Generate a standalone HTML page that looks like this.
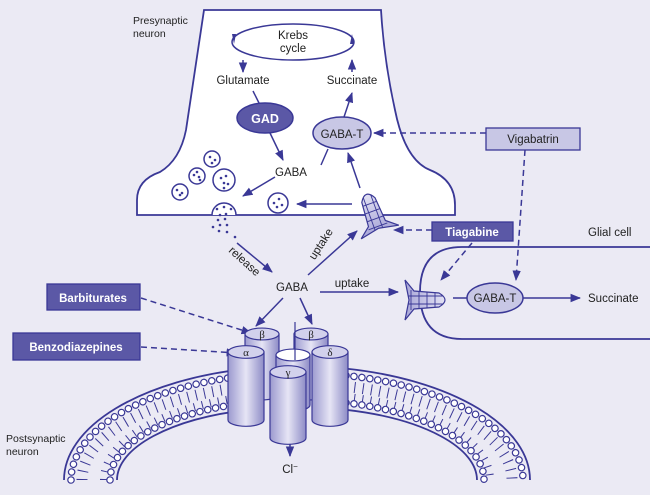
<!DOCTYPE html>
<html><head><meta charset="utf-8"><style>
body{margin:0;background:#ebeaf4}
svg{display:block;font-family:"Liberation Sans",sans-serif}
</style></head><body>
<svg width="650" height="495" viewBox="0 0 650 495" xmlns="http://www.w3.org/2000/svg">
<defs>
<marker id="a" viewBox="0 0 10 10" refX="9" refY="5" markerWidth="7" markerHeight="7" orient="auto-start-reverse"><path d="M0,1 L10,5 L0,9 Z" fill="#3a3896"/></marker>
<linearGradient id="cy" x1="0" x2="1"><stop offset="0" stop-color="#9b99cf"/><stop offset="0.5" stop-color="#e6e5f5"/><stop offset="1" stop-color="#8d8bc6"/></linearGradient>
<linearGradient id="tp" x1="0" x2="1"><stop offset="0" stop-color="#a9a7d8"/><stop offset="1" stop-color="#e2e1f3"/></linearGradient>
<g id="tr"><path d="M0,-20 L9,-9 L34,-7 Q46,0 34,7 L9,9 L0,20 L4,0 Z" fill="url(#tp)" stroke="#3a3896" stroke-width="1.2"/><path d="M6,-10 V10 M14,-9 V9 M22,-8 V8 M30,-7 V7 M3,-4 H38 M3,4 H38" stroke="#3a3896" stroke-width="0.9" fill="none"/></g>
</defs>
<rect width="650" height="495" fill="#ebeaf4"/>
<!-- membrane -->
<g fill="none" stroke="#3a3896">
<path d="M82,480 A215,96 0 0 1 248,386.5 M346,386.5 A215,96 0 0 1 512,480" stroke-width="11" stroke-dasharray="1 7.4"/>
<path d="M104,480 A193,86 0 0 1 248,396.8 M346,396.8 A193,86 0 0 1 490,480" stroke-width="8" stroke-dasharray="1 7.2"/>
<path d="M71,480 A226,107 0 0 1 248,375.5 M346,375.5 A226,107 0 0 1 523,480" stroke-width="7.6" stroke-linecap="round" stroke-dasharray="0.01 8"/>
<path d="M71,480 A226,107 0 0 1 248,375.5 M346,375.5 A226,107 0 0 1 523,480" stroke="#fff" stroke-width="5.2" stroke-linecap="round" stroke-dasharray="0.01 8"/>
<path d="M110,480 A187,80 0 0 1 248,402.8 M346,402.8 A187,80 0 0 1 484,480" stroke-width="7.6" stroke-linecap="round" stroke-dasharray="0.01 8"/>
<path d="M110,480 A187,80 0 0 1 248,402.8 M346,402.8 A187,80 0 0 1 484,480" stroke="#fff" stroke-width="5.2" stroke-linecap="round" stroke-dasharray="0.01 8"/>
<path d="M64,480 A233,114 0 0 1 248,368.6 M346,368.6 A233,114 0 0 1 530,480" stroke-width="1.8"/>
<path d="M117,480 A180,73 0 0 1 248,409.8 M346,409.8 A180,73 0 0 1 477,480" stroke-width="1.8"/>
</g>
<!-- presynaptic neuron -->
<path d="M137,215 V200 Q137,180 160,172 Q180,160 186,130 L204,10 H381 Q384,60 395,110 Q405,160 430,170 Q455,180 455,205 V215 Z" fill="#fff" stroke="#3a3896" stroke-width="1.8"/>
<!-- glial -->
<path d="M650,247 H462 Q420,247 420,292 Q420,339 462,339 H650" fill="none" stroke="#3a3896" stroke-width="1.8"/>
<g fill="none" stroke="#3a3896" stroke-width="1.5">
<ellipse cx="293" cy="42" rx="61" ry="18"/>
<line x1="243" y1="60" x2="243" y2="72" marker-end="url(#a)"/>
<line x1="352" y1="72" x2="352" y2="60" marker-end="url(#a)"/>
<line x1="253" y1="91" x2="259" y2="103"/>
<line x1="270" y1="133" x2="283" y2="160" marker-end="url(#a)"/>
<line x1="321" y1="165" x2="328" y2="149"/>
<line x1="344" y1="117" x2="352" y2="93" marker-end="url(#a)"/>
<line x1="360" y1="188" x2="348" y2="153" marker-end="url(#a)"/>
<line x1="275" y1="177" x2="243" y2="196" marker-end="url(#a)"/>
<line x1="352" y1="204" x2="297" y2="204" marker-end="url(#a)"/>
<line x1="237" y1="243" x2="272" y2="272" marker-end="url(#a)"/>
<line x1="308" y1="275" x2="357" y2="231" marker-end="url(#a)"/>
<line x1="320" y1="292" x2="398" y2="292" marker-end="url(#a)"/>
<line x1="283" y1="298" x2="256" y2="326" marker-end="url(#a)"/>
<line x1="300" y1="298" x2="312" y2="324" marker-end="url(#a)"/>
<line x1="453" y1="298" x2="467" y2="298"/>
<line x1="523" y1="298" x2="580" y2="298" marker-end="url(#a)"/>
<line x1="290" y1="438" x2="290" y2="456" marker-end="url(#a)"/>
</g>
<path d="M232,34 L234,44 L236,34 Z M352,34 L350,44 L354,44Z" fill="#3a3896"/>
<g fill="none" stroke="#3a3896" stroke-width="1.5" stroke-dasharray="6,4">
<line x1="486" y1="133" x2="374" y2="133" marker-end="url(#a)"/>
<line x1="525" y1="150" x2="516" y2="280" marker-end="url(#a)"/>
<line x1="432" y1="230" x2="394" y2="230" marker-end="url(#a)"/>
<line x1="472" y1="243" x2="441" y2="280" marker-end="url(#a)"/>
<line x1="141" y1="298" x2="251" y2="333" marker-end="url(#a)"/>
<line x1="141" y1="347" x2="236" y2="353" marker-end="url(#a)"/>
</g>
<!-- vesicles -->
<g fill="#fff" stroke="#3a3896" stroke-width="1.5">
<circle cx="212" cy="159" r="8"/><circle cx="197" cy="176" r="8"/><circle cx="224" cy="180" r="11"/><circle cx="180" cy="192" r="8"/><circle cx="278" cy="203" r="10"/>
<path d="M212,215 A11,11 0 1 1 236,215" />
</g>
<g fill="#3a3896">
<circle cx="210" cy="157" r="1.3"/><circle cx="215" cy="160" r="1.3"/><circle cx="212" cy="163" r="1.3"/>
<circle cx="194" cy="175" r="1.3"/><circle cx="199" cy="177" r="1.3"/><circle cx="197" cy="172" r="1.3"/><circle cx="200" cy="180" r="1.3"/>
<circle cx="221" cy="178" r="1.3"/><circle cx="226" cy="176" r="1.3"/><circle cx="224" cy="183" r="1.3"/><circle cx="228" cy="184" r="1.3"/><circle cx="224" cy="188" r="1.3"/>
<circle cx="177" cy="190" r="1.3"/><circle cx="182" cy="193" r="1.3"/><circle cx="180" cy="195" r="1.3"/>
<circle cx="274" cy="203" r="1.3"/><circle cx="279" cy="199" r="1.3"/><circle cx="282" cy="205" r="1.3"/><circle cx="277" cy="207" r="1.3"/>
<circle cx="217" cy="209" r="1.3"/><circle cx="224" cy="207" r="1.3"/><circle cx="231" cy="209" r="1.3"/><circle cx="220" cy="215" r="1.3"/><circle cx="226" cy="214" r="1.3"/>
<circle cx="218" cy="220" r="1.3"/><circle cx="225" cy="219" r="1.3"/><circle cx="213" cy="227" r="1.3"/><circle cx="220" cy="225" r="1.3"/><circle cx="227" cy="225" r="1.3"/><circle cx="219" cy="231" r="1.3"/><circle cx="227" cy="232" r="1.3"/><circle cx="235" cy="237" r="1.3"/>
</g>
<ellipse cx="265" cy="118" rx="28" ry="15" fill="#5b58a6" stroke="#3a3896" stroke-width="1.5"/>
<ellipse cx="342" cy="133" rx="29" ry="16" fill="#c8c7e5" stroke="#3a3896" stroke-width="1.5"/>
<ellipse cx="495" cy="298" rx="28" ry="15" fill="#c8c7e5" stroke="#3a3896" stroke-width="1.5"/>
<use href="#tr" transform="translate(380,232) rotate(-110)"/>
<use href="#tr" transform="translate(405,300)"/>
<!-- boxes -->
<rect x="486" y="128" width="94" height="22" fill="#c8c7e5" stroke="#3a3896" stroke-width="1.3"/>
<rect x="432" y="222" width="81" height="19" fill="#5b58a6" stroke="#3a3896" stroke-width="1.3"/>
<rect x="47" y="284" width="93" height="26" fill="#5b58a6" stroke="#3a3896" stroke-width="1.3"/>
<rect x="13" y="333" width="127" height="27" fill="#5b58a6" stroke="#3a3896" stroke-width="1.3"/>
<!-- channel -->
<g stroke="#3a3896" stroke-width="1.2">
<path d="M245,334 V394 A17,5.95 0 0 0 279,394 V334 Z" fill="url(#cy)"/><ellipse cx="262" cy="334" rx="17" ry="5.95" fill="#d2d1ec"/>
<path d="M294,334 V394 A17,5.95 0 0 0 328,394 V334 Z" fill="url(#cy)"/><ellipse cx="311" cy="334" rx="17" ry="5.95" fill="#d2d1ec"/>
<path d="M276,355 V405 A17,5.95 0 0 0 310,405 V355 Z" fill="url(#cy)"/><ellipse cx="293" cy="355" rx="17" ry="5.95" fill="#fff"/>
<line x1="295" y1="322" x2="295" y2="360"/>
<path d="M228,352 V420 A18,6.3 0 0 0 264,420 V352 Z" fill="url(#cy)"/><ellipse cx="246" cy="352" rx="18" ry="6.3" fill="#d2d1ec"/>
<path d="M312,352 V420 A18,6.3 0 0 0 348,420 V352 Z" fill="url(#cy)"/><ellipse cx="330" cy="352" rx="18" ry="6.3" fill="#d2d1ec"/>
<path d="M270,372 V438 A18,6.3 0 0 0 306,438 V372 Z" fill="url(#cy)"/><ellipse cx="288" cy="372" rx="18" ry="6.3" fill="#d2d1ec"/>
</g>
<g font-family="Liberation Serif,serif" font-size="11" fill="#222" text-anchor="middle">
<text x="262" y="338">β</text><text x="311" y="338">β</text><text x="246" y="356">α</text><text x="330" y="356">δ</text><text x="288" y="376">γ</text>
</g>
<g font-size="11.5" fill="#222" text-anchor="middle">
<text x="293" y="39">Krebs</text><text x="293" y="52">cycle</text>
<text x="243" y="84">Glutamate</text><text x="352" y="84">Succinate</text>
<text x="265" y="123" fill="#fff" font-weight="bold" font-size="12.5">GAD</text>
<text x="342" y="138">GABA-T</text>
<text x="291" y="176">GABA</text>
<text x="292" y="291">GABA</text>
<text x="495" y="302">GABA-T</text>
<text x="533" y="143">Vigabatrin</text>
<text x="472" y="236" fill="#fff" font-weight="bold">Tiagabine</text>
<text x="93" y="302" fill="#fff" font-weight="bold">Barbiturates</text>
<text x="76" y="351" fill="#fff" font-weight="bold">Benzodiazepines</text>
<text x="352" y="287">uptake</text>
<text x="290" y="473">Cl<tspan font-size="8" dy="-4">−</tspan></text>
<text transform="translate(242,264) rotate(42)">release</text>
<text transform="translate(324,246) rotate(-57)">uptake</text>
</g>
<g font-size="10.5" fill="#222">
<text x="133" y="24">Presynaptic</text><text x="133" y="37">neuron</text>
<text x="588" y="302" font-size="11.5">Succinate</text>
<text x="588" y="236" font-size="11.5">Glial cell</text>
<text x="6" y="442">Postsynaptic</text><text x="6" y="455">neuron</text>
</g>
</svg>
</body></html>
